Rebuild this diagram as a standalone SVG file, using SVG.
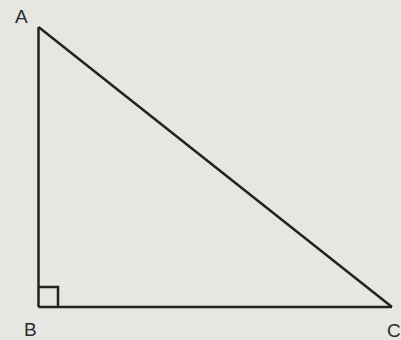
<svg xmlns="http://www.w3.org/2000/svg" width="401" height="340" viewBox="0 0 401 340">
<style>
.edge{stroke:#222;stroke-width:2.5;fill:none;stroke-linejoin:miter}
.lbl{font-family:"Liberation Sans",Arial,sans-serif;font-size:19px;fill:#2a2a2a}
</style>
<rect width="401" height="340" fill="#e6e6e2"/>
<g id="connectors">
<line class="edge" x1="38.5" y1="27" x2="38.5" y2="307"/>
<line class="edge" x1="38.5" y1="307" x2="392" y2="307"/>
<line class="edge" x1="38.5" y1="27" x2="392" y2="307"/>
<polyline class="edge" points="38.5,287 58,287 58,307"/>
</g>
<g id="A"><text class="lbl" x="15" y="23">A</text></g>
<g id="B"><text class="lbl" x="24" y="336">B</text></g>
<g id="C"><text class="lbl" x="387" y="337">C</text></g>
</svg>
